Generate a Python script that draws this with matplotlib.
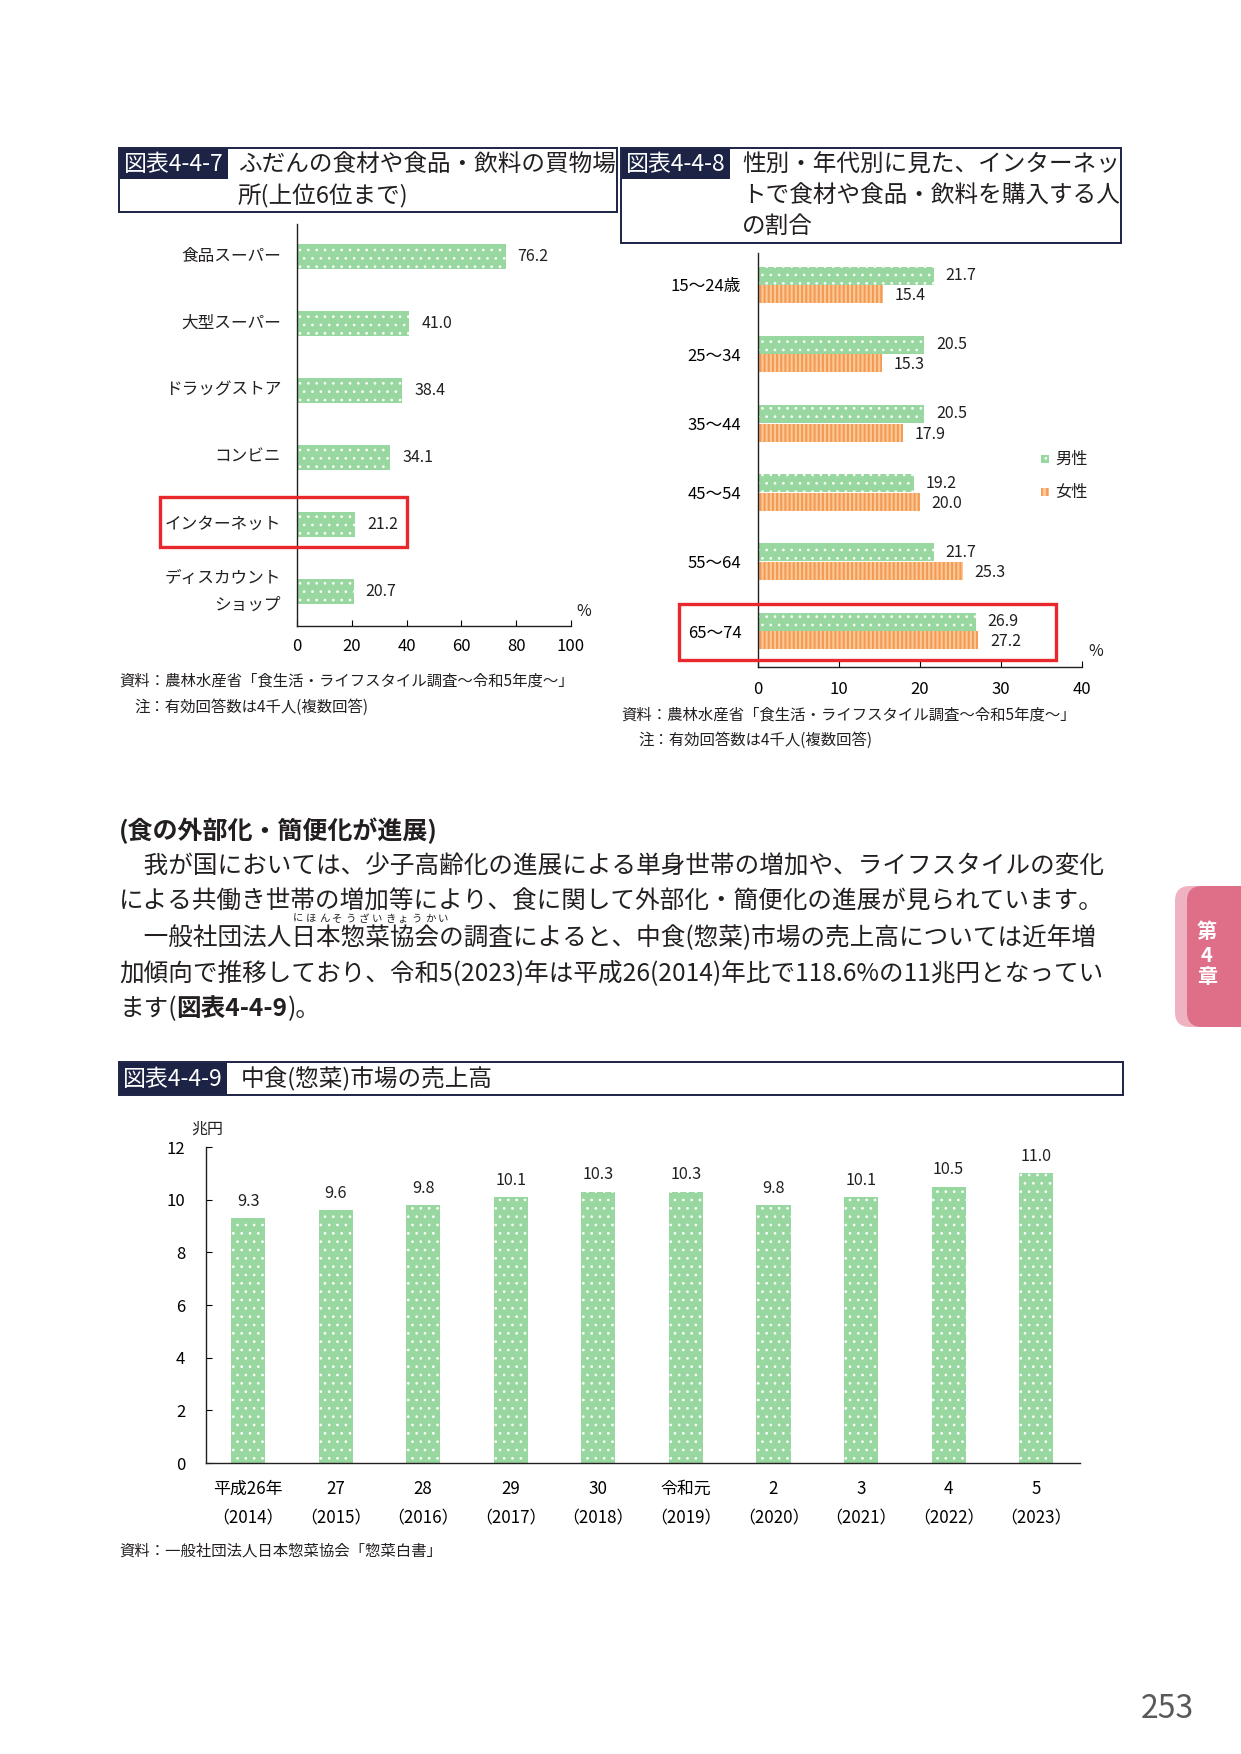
import matplotlib
matplotlib.use("Agg")
import matplotlib.pyplot as plt
from matplotlib.patches import Rectangle, FancyBboxPatch

plt.rcParams['font.family'] = ['Noto Sans CJK JP', 'DejaVu Sans']
plt.rcParams['hatch.linewidth'] = 0.7
plt.rcParams['text.color'] = '#231f20'

W, H = 1241, 1754
GREEN = '#98d8a0'
ORANGE = '#fcc896'
ORANGE_LINE = '#f49a55'
NAVY = '#1c2344'
RED = '#e8282c'
DOT_LW = 0.7
STRIPE_LW = 1.5

# data
shop_labels = ["食品スーパー", "大型スーパー", "ドラッグストア", "コンビニ",
               "インターネット", "ディスカウント\nショップ"]
shop_values = [76.2, 41.0, 38.4, 34.1, 21.2, 20.7]

age_labels = ["15～24歳", "25～34", "35～44", "45～54", "55～64", "65～74"]
male_values = [21.7, 20.5, 20.5, 19.2, 21.7, 26.9]
female_values = [15.4, 15.3, 17.9, 20.0, 25.3, 27.2]

year_labels = ["平成26年\n（2014）", "27\n（2015）", "28\n（2016）", "29\n（2017）",
               "30\n（2018）", "令和元\n（2019）", "2\n（2020）", "3\n（2021）",
               "4\n（2022）", "5\n（2023）"]
sales_values = [9.3, 9.6, 9.8, 10.1, 10.3, 10.3, 9.8, 10.1, 10.5, 11.0]

fig = plt.figure(figsize=(W / 100, H / 100), dpi=100)


def fx(x):
    return x / W


def fy(y):
    return 1 - y / H


def add_ax(x0, y0, x1, y1):
    return fig.add_axes([fx(x0), fy(y1), (x1 - x0) / W, (y1 - y0) / H])


def ptext(x, y, s, **kw):
    kw.setdefault('va', 'center')
    return fig.text(fx(x), fy(y), s, **kw)


def prect(x0, y0, x1, y1, **kw):
    r = Rectangle((fx(x0), fy(y1)), (x1 - x0) / W, (y1 - y0) / H,
                  transform=fig.transFigure, **kw)
    fig.patches.append(r)
    return r


def set_hlw(patches, lw):
    for p in patches:
        if hasattr(p, 'set_hatch_linewidth'):
            p.set_hatch_linewidth(lw)


def title_box(x0, y0, x1, y1, tag, tag_x1, tag_y1, text_x, lines, line_ys, fs=17):
    prect(x0, y0, x1, y1, fill=False, ec=NAVY, lw=1.4)
    prect(x0 + 1, y0 + 1, tag_x1, tag_y1, fc=NAVY, ec='none')
    ptext((x0 + tag_x1) / 2, (y0 + tag_y1) / 2 + 1, tag, color='white', fontsize=16.5, ha='center')
    for s, ly in zip(lines, line_ys):
        ptext(text_x, ly, s, fontsize=fs, ha='left')


def style_axes(ax):
    for side in ['top', 'right']:
        ax.spines[side].set_visible(False)
    for side in ['left', 'bottom']:
        ax.spines[side].set_color('#231f20')
        ax.spines[side].set_linewidth(1.0)


# ---------- titles ----------
title_box(119, 148, 617, 212, "図表4-4-7", 228, 179, 238,
          ["ふだんの食材や食品・飲料の買物場", "所(上位6位まで)"], [165, 196])
title_box(621, 148, 1121, 243, "図表4-4-8", 730, 179, 742,
          ["性別・年代別に見た、インターネッ", "トで食材や食品・飲料を購入する人", "の割合"],
          [165, 196, 226])
title_box(119, 1062, 1123, 1095, "図表4-4-9", 227, 1094, 241,
          ["中食(惣菜)市場の売上高"], [1079])

# ---------- chart 1 ----------
ax1 = add_ax(297, 224, 571, 626)
style_axes(ax1)
pos1 = list(range(len(shop_values)))
with plt.rc_context({'hatch.linewidth': DOT_LW}):
    b = ax1.barh(pos1, shop_values, height=0.37, color=GREEN, edgecolor='white', linewidth=0, hatch='..')
set_hlw(b, DOT_LW)
for p, v in zip(pos1, shop_values):
    ax1.annotate(f"{v:.1f}", (v, p), xytext=(8.5, 0), textcoords='offset points',
                 va='center', ha='left', fontsize=11.5)
ax1.set_xlim(0, 100)
ax1.set_ylim(5.51, -0.48)
ax1.set_xticks([0, 20, 40, 60, 80, 100])
ax1.tick_params(axis='x', direction='in', length=4, labelsize=12, pad=8.5)
ax1.set_yticks(pos1)
ax1.set_yticklabels([])
ax1.tick_params(axis='y', length=0)
for p, lbl in zip(pos1, shop_labels):
    ax1.annotate(lbl, (0, p), xytext=(-11.5, 0), textcoords='offset points',
                 va='center', ha='right', fontsize=12, linespacing=1.8)
ptext(584, 612, "%", fontsize=11.5, ha='center')
prect(160, 497, 407, 547, fill=False, ec=RED, lw=2.4)
ptext(119, 681, "資料：農林水産省「食生活・ライフスタイル調査～令和5年度～」", fontsize=11.1)
ptext(134, 707, "注：有効回答数は4千人(複数回答)", fontsize=11.1)

# ---------- chart 2 ----------
ax2 = add_ax(758, 253, 1082, 667)
style_axes(ax2)
pos2 = list(range(len(age_labels)))
m_pos = [p - 0.135 for p in pos2]
f_pos = [p + 0.135 for p in pos2]
with plt.rc_context({'hatch.linewidth': DOT_LW}):
    bm = ax2.barh(m_pos, male_values, height=0.26, color=GREEN, edgecolor='white', linewidth=0, hatch='..')
set_hlw(bm, DOT_LW)
with plt.rc_context({'hatch.linewidth': STRIPE_LW}):
    bf = ax2.barh(f_pos, female_values, height=0.26, color=ORANGE, edgecolor=ORANGE_LINE, linewidth=0, hatch='||||')
set_hlw(bf, STRIPE_LW)
for p, v in zip(m_pos, male_values):
    ax2.annotate(f"{v:.1f}", (v, p), xytext=(8.5, 0), textcoords='offset points',
                 va='center', ha='left', fontsize=11.5)
for p, v in zip(f_pos, female_values):
    ax2.annotate(f"{v:.1f}", (v, p), xytext=(8.5, -1), textcoords='offset points',
                 va='center', ha='left', fontsize=11.5)
ax2.set_xlim(0, 40)
ax2.set_ylim(5.52, -0.46)
ax2.set_xticks([0, 10, 20, 30, 40])
ax2.tick_params(axis='x', direction='in', length=4, labelsize=12, pad=10)
ax2.set_yticks(pos2)
ax2.set_yticklabels(age_labels, fontsize=12)
ax2.tick_params(axis='y', length=0, pad=12)
ptext(1096, 652, "%", fontsize=11.5, ha='center')
prect(679, 604, 1056, 660, fill=False, ec=RED, lw=2.4)
# legend
with plt.rc_context({'hatch.linewidth': DOT_LW}):
    lg = prect(1041, 455, 1049, 463, fc=GREEN, ec='white', lw=0, hatch='..')
set_hlw([lg], DOT_LW)
ptext(1055, 459, "男性", fontsize=11.7)
with plt.rc_context({'hatch.linewidth': STRIPE_LW}):
    lf = prect(1041, 488, 1049, 496, fc=ORANGE, ec=ORANGE_LINE, lw=0, hatch='|||')
set_hlw([lf], STRIPE_LW)
ptext(1055, 492, "女性", fontsize=11.7)
ptext(621, 715, "資料：農林水産省「食生活・ライフスタイル調査～令和5年度～」", fontsize=11.1)
ptext(638, 740, "注：有効回答数は4千人(複数回答)", fontsize=11.1)

# ---------- body text ----------
ptext(119, 831, "(食の外部化・簡便化が進展)", fontsize=18, fontweight='bold')
body_lines = [
    "　我が国においては、少子高齢化の進展による単身世帯の増加や、ライフスタイルの変化",
    "による共働き世帯の増加等により、食に関して外部化・簡便化の進展が見られています。",
    "　一般社団法人日本惣菜協会の調査によると、中食(惣菜)市場の売上高については近年増",
    "加傾向で推移しており、令和5(2023)年は平成26(2014)年比で118.6%の11兆円となってい",
]
body_ys = [867, 902, 938, 973]
for s, ly in zip(body_lines, body_ys):
    ptext(119, ly, s, fontsize=17.7)
ruby = "にほんそうざいきょうかい"
for i, ch in enumerate(ruby):
    ptext(298 + i * 13.2, 919, ch, fontsize=7.5, ha='center')
renderer = fig.canvas.get_renderer()
x = 119
for s, wgt in [("ます(", 'normal'), ("図表4-4-9", 'bold'), (")。", 'normal')]:
    t = ptext(x, 1009, s, fontsize=17.7, fontweight=wgt)
    x += t.get_window_extent(renderer).width

# ---------- chart 3 ----------
ax3 = add_ax(206, 1147, 1080, 1463)
style_axes(ax3)
pos3 = list(range(len(sales_values)))
with plt.rc_context({'hatch.linewidth': DOT_LW}):
    bs = ax3.bar(pos3, sales_values, width=0.39, color=GREEN, edgecolor='white', linewidth=0, hatch='..')
set_hlw(bs, DOT_LW)
for p, v in zip(pos3, sales_values):
    ax3.annotate(f"{v:.1f}", (p, v), xytext=(0, 6), textcoords='offset points',
                 va='bottom', ha='center', fontsize=11.7)
ax3.set_ylim(0, 12)
ax3.set_xlim(-0.48, 9.5)
ax3.set_yticks([0, 2, 4, 6, 8, 10, 12])
ax3.tick_params(axis='y', direction='in', length=4, labelsize=12, pad=15)
ax3.set_xticks(pos3)
ax3.set_xticklabels(year_labels, fontsize=12.2, linespacing=1.85)
ax3.tick_params(axis='x', length=0, pad=12)
ptext(207, 1129, "兆円", fontsize=11.5, ha='center')
ptext(119, 1551, "資料：一般社団法人日本惣菜協会「惣菜白書」", fontsize=11.1)

# ---------- side tab & page number ----------
fig.patches.append(FancyBboxPatch((fx(1175), fy(1027)), 0.08, (1027 - 886) / H,
                                  boxstyle="round,pad=0,rounding_size=0.012",
                                  transform=fig.transFigure, fc='#efb2c0', ec='none',
                                  mutation_aspect=W / H))
fig.patches.append(FancyBboxPatch((fx(1187), fy(1027)), 0.08, (1027 - 886) / H,
                                  boxstyle="round,pad=0,rounding_size=0.012",
                                  transform=fig.transFigure, fc='#df6e88', ec='none',
                                  mutation_aspect=W / H))
for s, ly in zip(["第", "4", "章"], [932, 955, 977]):
    ptext(1207, ly, s, fontsize=14.5, fontweight='bold', color='white', ha='center')
ptext(1167, 1709, "253", fontsize=23, color='#595959', ha='center')

fig.savefig("out.png", dpi=100)
plt.close(fig)
